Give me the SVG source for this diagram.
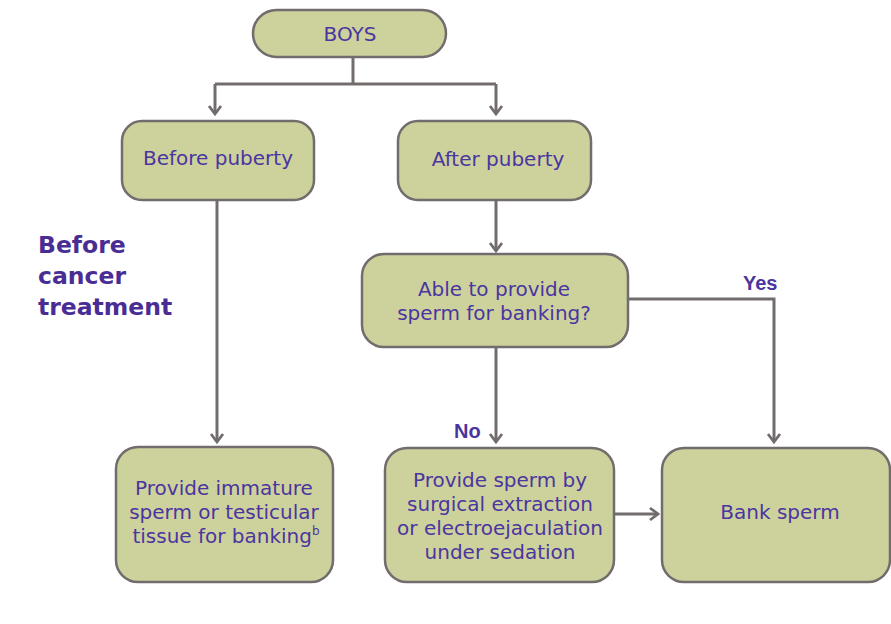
<svg xmlns="http://www.w3.org/2000/svg" width="891" height="624" viewBox="0 0 891 624">
<style>
.box{fill:#cdd29c;stroke:#726c6c;stroke-width:2.5}
.t{font-family:"DejaVu Sans",sans-serif;font-size:20px;fill:#4b35a0;text-anchor:middle}
.lbl{font-family:"Liberation Sans",Arial,sans-serif;font-weight:bold;font-size:20px;fill:#4b35a0}
.head{font-family:"DejaVu Sans",sans-serif;font-weight:bold;font-size:23.5px;fill:#4a2d94}
.c{fill:none;stroke:#726c6c;stroke-width:3}
</style>
<defs>
<marker id="ah" viewBox="0 0 16 16" refX="13" refY="8" markerWidth="16" markerHeight="16" markerUnits="userSpaceOnUse" orient="auto">
<path d="M5,2 L13,8 L5,14" fill="none" stroke="#726c6c" stroke-width="2.8"/>
</marker>
</defs>
<rect width="891" height="624" fill="#ffffff"/>
<g id="connectors">
<path class="c" d="M353,57 V84"/>
<path class="c" d="M215,84 H496"/>
<path class="c" d="M215,84 V114" marker-end="url(#ah)"/>
<path class="c" d="M496,84 V114" marker-end="url(#ah)"/>
<path class="c" d="M217,200 V442" marker-end="url(#ah)"/>
<path class="c" d="M496,200 V251" marker-end="url(#ah)"/>
<path class="c" d="M496,347 V442" marker-end="url(#ah)"/>
<path class="c" d="M628,299 H774 V442" marker-end="url(#ah)"/>
<path class="c" d="M614,514 H658" marker-end="url(#ah)"/>
<text class="lbl" x="743" y="290">Yes</text>
<text class="lbl" x="454" y="438">No</text>
</g>
<g id="heading">
<text class="head" x="38" y="253">Before</text>
<text class="head" x="38" y="284">cancer</text>
<text class="head" x="38" y="315">treatment</text>
</g>
<g id="boys">
<rect class="box" x="253" y="10" width="193" height="47" rx="23.5"/>
<text class="t" x="350" y="41">BOYS</text>
</g>
<g id="before-puberty">
<rect class="box" x="122" y="121" width="192" height="79" rx="20"/>
<text class="t" x="218" y="165">Before puberty</text>
</g>
<g id="after-puberty">
<rect class="box" x="398" y="121" width="193" height="79" rx="20"/>
<text class="t" x="498" y="166">After puberty</text>
</g>
<g id="able">
<rect class="box" x="362" y="254" width="266" height="93" rx="22"/>
<text class="t" x="494" y="296">Able to provide</text>
<text class="t" x="494" y="320">sperm for banking?</text>
</g>
<g id="immature">
<rect class="box" x="116" y="447" width="217" height="135" rx="22"/>
<text class="t" x="224" y="495">Provide immature</text>
<text class="t" x="224" y="519">sperm or testicular</text>
<text class="t" x="226" y="543">tissue for banking<tspan font-size="12" dy="-8">b</tspan></text>
</g>
<g id="surgical">
<rect class="box" x="385" y="448" width="229" height="134" rx="22"/>
<text class="t" x="500" y="487">Provide sperm by</text>
<text class="t" x="500" y="511">surgical extraction</text>
<text class="t" x="500" y="535">or electroejaculation</text>
<text class="t" x="500" y="559">under sedation</text>
</g>
<g id="bank">
<rect class="box" x="662" y="448" width="228" height="134" rx="22"/>
<text class="t" x="780" y="519">Bank sperm</text>
</g>
</svg>
